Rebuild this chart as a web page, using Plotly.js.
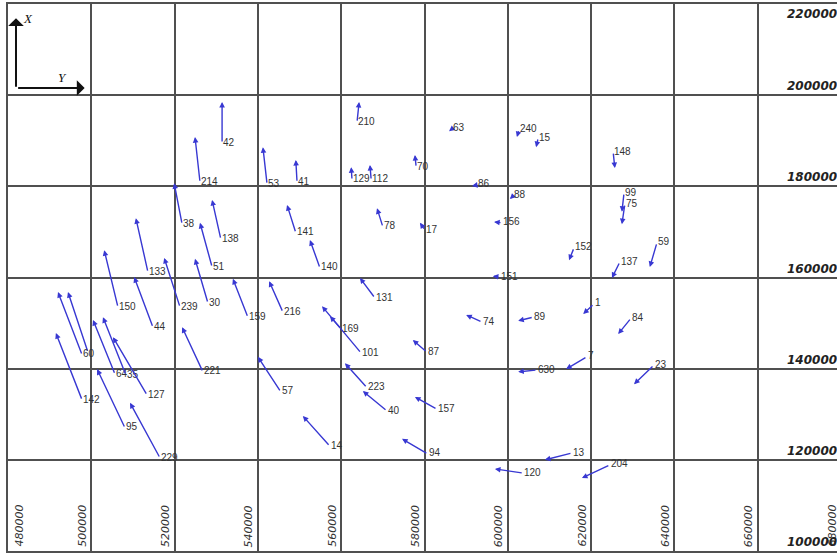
<!DOCTYPE html>
<html><head><meta charset="utf-8">
<script src="https://cdn.plot.ly/plotly-3.0.1.min.js"></script>
<style>
html,body{margin:0;padding:0;overflow:hidden;background:#fff;width:837px;height:556px}
#chart{width:841px;height:556px}
</style>
</head><body><div id="chart"></div>
<script>
// Station labels
const stationLabels = ["42","214","53","41","210","129","112","70","63","240","15","86","88","148","99","75",
  "38","138","141","78","17","156","152","59","137","133","51","140","151","150","239","30","131","216",
  "159","44","169","101","74","89","1","84","","60","87","7","630","23","221","64","35","127","142","57",
  "223","40","157","95","14","94","229","13","204","120"];
// Station position (easting, northing) = start of displacement vector
const stationEast = [531400,526100,542200,549400,563800,562600,567200,578000,586600,602700,607300,592600,601300,625300,627900,628100,
  521800,531100,549100,570000,580100,598600,615900,635800,626900,513600,529000,554900,598100,506400,521300,528000,568100,546000,
  537600,514800,560000,564800,593800,606100,620700,629600,499200,497800,580600,619000,607000,635100,526800,505700,508300,513400,497800,545500,
  566200,571000,583000,508100,557300,580800,516500,615400,624500,603700];
const stationNorth = [189500,180900,180500,180900,194100,181400,181400,184200,192600,192400,190600,180300,177900,187500,178500,176100,
  171700,168400,169800,171100,170400,172000,166500,167600,163400,161200,162300,162100,160100,153500,153500,154400,155500,152400,
  151300,149100,148700,143400,150200,151300,154200,151100,143600,143000,143600,142600,139700,140800,139300,138800,138600,134200,133100,134900,
  135800,130700,131100,127000,123000,121300,120400,121500,118900,117100];
// End of displacement vector (arrow head)
const vectorEndEast = [531400,524900,541200,549100,564300,562400,566900,577700,585900,602200,606800,591400,600500,625700,627400,627400,
  519900,529000,547000,568600,578900,596700,614700,634100,625000,510700,526100,552500,596400,503100,517500,524900,564500,542700,
  534000,510300,557300,555400,590000,602500,618100,626500,494400,492000,577200,614000,602500,630300,521800,500400,502800,505200,491500,540000,
  560900,565200,577700,501400,550800,574600,509300,608900,617800,596900];
const vectorEndNorth = [198500,190800,188600,185800,198500,184200,184700,186900,192100,190800,188600,180100,177200,184000,174400,171700,
  180700,177000,175900,175200,172000,172200,163800,162300,159900,173000,172000,168200,160300,166000,164300,164100,159900,159200,
  159700,160100,151500,153700,151800,150500,152000,147600,156800,156800,146300,139900,139300,136600,149100,150700,151300,146900,147800,142600,
  141200,135100,133800,139900,129600,124600,132500,120000,116000,118000];

// Grid / tick values
const eastTicks = [480000,500000,520000,540000,560000,580000,600000,620000,640000,660000,680000];
const eastTickText = ["480000","500000","520000","540000","560000","580000","600000","620000","640000","660000","680000"];
const northTicks = [100000,120000,140000,160000,180000,200000,220000];
const northTickText = ["100000","120000","140000","160000","180000","200000","220000"];

const blue = '#3838d2';
const annotations = [];

for (let i = 0; i < stationLabels.length; i++) {
  annotations.push({
    xref:'x', yref:'y', axref:'x', ayref:'y',
    x: vectorEndEast[i], y: vectorEndNorth[i],
    ax: stationEast[i], ay: stationNorth[i],
    text:'', showarrow:true, arrowhead:2, arrowsize:0.8, arrowwidth:1.4,
    arrowcolor: blue, standoff:0, startstandoff:0
  });
  if (stationLabels[i] !== '') {
    annotations.push({
      xref:'x', yref:'y', x: stationEast[i], y: stationNorth[i],
      text: stationLabels[i], showarrow:false, xanchor:'left', yanchor:'middle',
      xshift:0, yshift:1, borderpad:0,
      font:{family:'Liberation Sans, Arial, sans-serif', size:10, color:'#333'}
    });
  }
}

// Easting labels (rotated, at bottom, beside each vertical grid line)
eastTicks.forEach((v, i) => {
  const first = i === 0;
  annotations.push({
    xref:'x', yref:'y', x:v, y:northTicks[0], text:eastTickText[i], showarrow:false,
    textangle:-90, xanchor: first ? 'left' : 'right', yanchor:'bottom',
    xshift: first ? 3 : -2, yshift:3, borderpad:0,
    font:{family:'DejaVu Sans, sans-serif', size:11, color:'#333', style:'italic'}
  });
});

// Northing labels at right edge
northTicks.forEach((v, i) => {
  const top = i === northTicks.length - 1;
  annotations.push({
    xref:'x', yref:'y', x:eastTicks[eastTicks.length-1], y:v, text:northTickText[i], showarrow:false,
    xanchor:'right', yanchor: top ? 'top' : 'bottom', xshift:-3, yshift: top ? -2 : 1, borderpad:0,
    font:{family:'DejaVu Sans, sans-serif', size:12, color:'#222', weight:'bold', style:'italic'}
  });
});

// Orientation indicator (X up, Y right)
annotations.push({xref:'paper', yref:'paper', x:0.0096, y:0.974, ax:0, ay:70, axref:'pixel', ayref:'pixel',
  text:'', showarrow:true, arrowhead:1, arrowsize:1.3, arrowwidth:2, arrowcolor:'#111', standoff:0});
annotations.push({xref:'paper', yref:'paper', x:0.092, y:0.8464, ax:-68, ay:0, axref:'pixel', ayref:'pixel',
  text:'', showarrow:true, arrowhead:1, arrowsize:1.3, arrowwidth:2, arrowcolor:'#111', standoff:0});
annotations.push({xref:'paper', yref:'paper', x:0.016, y:0.99, text:'X', showarrow:false, xanchor:'left', yanchor:'top',
  font:{family:'Liberation Serif, serif', size:13, color:'#111', style:'italic'}});
annotations.push({xref:'paper', yref:'paper', x:0.058, y:0.848, text:'Y', showarrow:false, xanchor:'left', yanchor:'bottom',
  font:{family:'Liberation Serif, serif', size:13, color:'#111', style:'italic'}});

const trace = {
  type:'scatter', mode:'markers', x: stationEast, y: stationNorth,
  marker:{size:2, color:blue, opacity:0}, hoverinfo:'skip', showlegend:false
};

const gridCol = '#505050';
const layout = {
  width:841, height:556,
  margin:{l:8, r:0, t:4, b:5},
  paper_bgcolor:'#fff', plot_bgcolor:'#fff',
  showlegend:false,
  xaxis:{range:[eastTicks[0], eastTicks[eastTicks.length-1]], tickmode:'array', tickvals:eastTicks,
    showticklabels:false, ticks:'', showgrid:true, gridcolor:gridCol, gridwidth:2, zeroline:false,
    showline:true, linecolor:gridCol, linewidth:2, mirror:true, fixedrange:true},
  yaxis:{range:[northTicks[0], northTicks[northTicks.length-1]], tickmode:'array', tickvals:northTicks,
    showticklabels:false, ticks:'', showgrid:true, gridcolor:gridCol, gridwidth:2, zeroline:false,
    showline:true, linecolor:gridCol, linewidth:2, mirror:false, fixedrange:true},
  annotations: annotations
};

Plotly.newPlot('chart', [trace], layout, {displayModeBar:false, staticPlot:true});
</script>
</body></html>
